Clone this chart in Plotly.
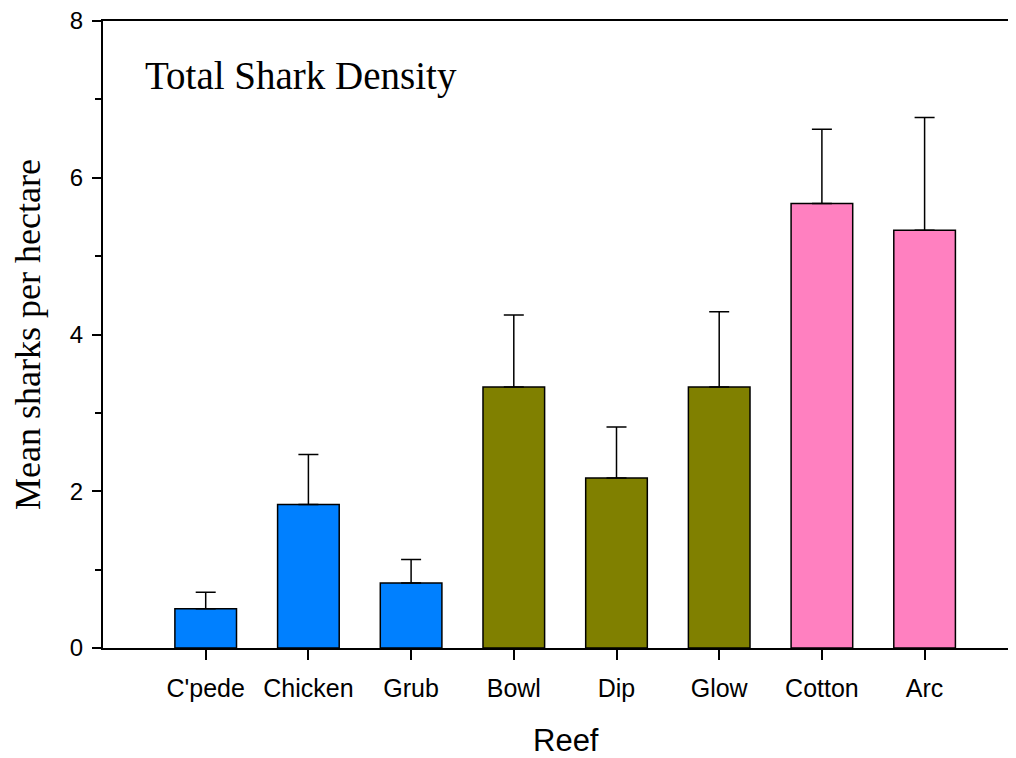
import plotly.graph_objects as go

reefs = ["C'pede", "Chicken", "Grub", "Bowl", "Dip", "Glow", "Cotton", "Arc"]
means = [0.50, 1.83, 0.83, 3.33, 2.17, 3.33, 5.67, 5.33]
errors = [0.21, 0.64, 0.30, 0.92, 0.65, 0.96, 0.95, 1.44]
colors = ["#0080FF", "#0080FF", "#0080FF", "#808000", "#808000", "#808000", "#FF80C0", "#FF80C0"]

fig = go.Figure()
fig.add_trace(go.Bar(
    x=reefs, y=means, width=0.6,
    marker=dict(color=colors, line=dict(color="black", width=1.5)),
    error_y=dict(type="data", array=errors, arrayminus=[0]*len(errors), symmetric=False,
                 color="black", thickness=1.5, width=10),
    showlegend=False,
))

fig.update_layout(
    width=1008, height=750,
    margin=dict(l=95, r=0, t=13, b=110),
    plot_bgcolor="white", paper_bgcolor="white",
    xaxis=dict(
        range=[-1, 7.89], showline=True, linecolor="black", linewidth=2, mirror=True,
        automargin=False,
        ticks="outside", ticklen=10, tickwidth=1.5, tickcolor="black",
        ticklabelstandoff=7,
        tickfont=dict(family="Liberation Sans, Arial", size=25, color="black"),
        showgrid=False, zeroline=False,
    ),
    yaxis=dict(
        range=[0, 8], tickvals=[0, 2, 4, 6, 8], showline=True, linecolor="black", linewidth=2,
        automargin=False, ticklabeloverflow="allow",
        ticks="outside", ticklen=9, tickwidth=1.5, tickcolor="black",
        ticklabelstandoff=4,
        minor=dict(tickvals=[1, 3, 5, 7], ticks="outside", ticklen=6, tickwidth=1.5, tickcolor="black"),
        tickfont=dict(family="Liberation Sans, Arial", size=24, color="black"),
        title=dict(text="Mean sharks per hectare", font=dict(family="Liberation Serif, serif", size=36, color="black"), standoff=22),
        showgrid=False, zeroline=False,
    ),
    annotations=[
        dict(
            text="Total Shark Density", x=-0.61, y=7.3, xref="x", yref="y",
            xanchor="left", yanchor="middle", showarrow=False,
            font=dict(family="Liberation Serif, serif", size=39, color="black"),
        ),
        dict(
            text="Reef", x=3.51, y=-0.148, xref="x", yref="paper",
            xanchor="center", yanchor="middle", showarrow=False,
            font=dict(family="Liberation Sans, Arial", size=31, color="black"),
        ),
    ],
)

fig.write_html("out.html")
